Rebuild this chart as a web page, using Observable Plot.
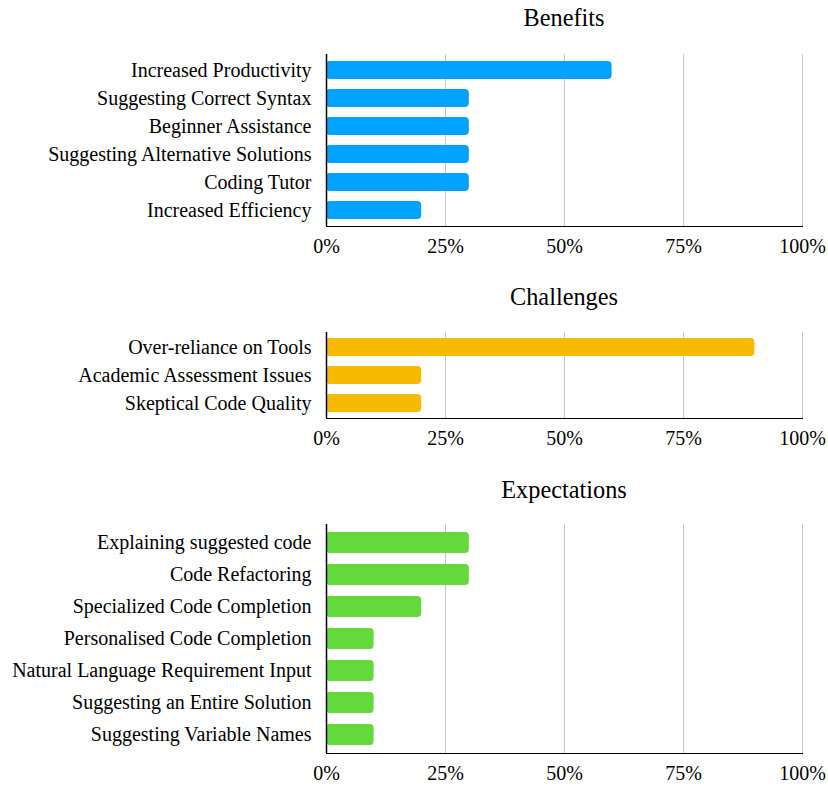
<!DOCTYPE html>
<html>
<head>
<meta charset="utf-8">
<script src="https://cdn.jsdelivr.net/npm/d3@7"></script>
<script src="https://cdn.jsdelivr.net/npm/@observablehq/plot@0.6"></script>
<style>
  html, body { margin: 0; padding: 0; background: #fff; }
  #wrap { position: relative; width: 828px; height: 787px; font-family: "Liberation Serif", "Times New Roman", serif; color: #000; }
  .panel { position: absolute; left: 0; }
  .title { position: absolute; left: 326px; width: 476px; text-align: center; font-size: 24.3px; line-height: 1; }
</style>
</head>
<body>
<div id="wrap"></div>
<script>
const benefitsCats = ["Increased Productivity", "Suggesting Correct Syntax", "Beginner Assistance", "Suggesting Alternative Solutions", "Coding Tutor", "Increased Efficiency"];
const benefitsVals = [60, 30, 30, 30, 30, 20];

const challengesCats = ["Over-reliance on Tools", "Academic Assessment Issues", "Skeptical Code Quality"];
const challengesVals = [90, 20, 20];

const expectationsCats = ["Explaining suggested code", "Code Refactoring", "Specialized Code Completion", "Personalised Code Completion", "Natural Language Requirement Input", "Suggesting an Entire Solution", "Suggesting Variable Names"];
const expectationsVals = [30, 30, 20, 10, 10, 10, 10];

const panelTitles = ["Benefits", "Challenges", "Expectations"];
const xTicks = [0, 25, 50, 75, 100];
const colors = ["#00A2FF", "#F8BA00", "#63D93C"];

const wrap = document.getElementById("wrap");

function panel(title, cats, vals, color, layout) {
  const data = cats.map((c, i) => ({cat: c, value: vals[i]}));
  const plot = Plot.plot({
    width: 828,
    height: layout.height,
    marginLeft: 326,
    marginRight: 26,
    marginTop: layout.mt,
    marginBottom: layout.mb,
    style: {fontFamily: "Liberation Serif, Times New Roman, serif", fontSize: "20px", color: "#000", background: "transparent", overflow: "visible"},
    x: {domain: [0, 100], ticks: xTicks, tickFormat: d => d + "%", tickSize: 0, tickPadding: 12, label: null, line: true},
    y: {domain: cats, paddingInner: layout.pi, paddingOuter: layout.po, tickSize: 0, tickPadding: 15, label: null, line: true},
    marks: [
      Plot.ruleX(xTicks.slice(1), {stroke: "#c8c8c8", strokeWidth: 1}),
      Plot.barX(data, {x: "value", y: "cat", fill: color, rx: 4}),
      Plot.ruleX([0], {stroke: "#000", strokeWidth: 1.5})
    ]
  });
  const div = document.createElement("div");
  div.className = "panel";
  div.style.top = layout.top + "px";
  div.appendChild(plot);
  wrap.appendChild(div);
  const t = document.createElement("div");
  t.className = "title";
  t.style.top = layout.titleTop + "px";
  t.textContent = title;
  wrap.appendChild(t);
}

panel(panelTitles[0], benefitsCats, benefitsVals, colors[0], {top: 0, height: 262, mt: 54, mb: 36, pi: 0.37, po: 0.2, titleTop: 6});
panel(panelTitles[1], challengesCats, challengesVals, colors[1], {top: 262, height: 196, mt: 70, mb: 40, pi: 0.37, po: 0.2, titleTop: 285});
panel(panelTitles[2], expectationsCats, expectationsVals, colors[2], {top: 458, height: 329, mt: 66, mb: 34, pi: 0.34, po: 0.2, titleTop: 478});
</script>
</body>
</html>
